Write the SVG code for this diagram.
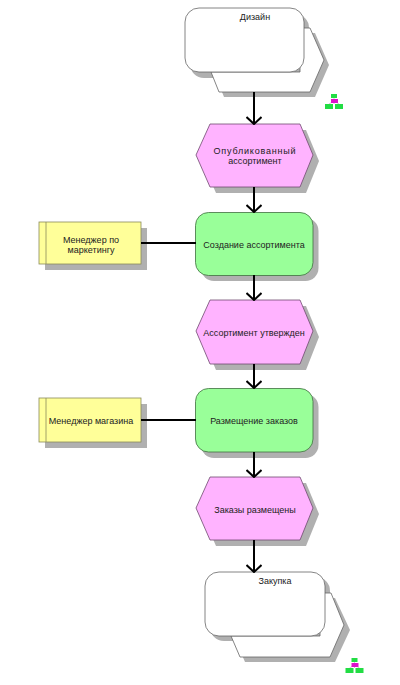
<svg xmlns="http://www.w3.org/2000/svg" width="400" height="685" viewBox="0 0 400 685">
<style>
text{font-family:"Liberation Sans",Arial,sans-serif;font-size:9px;fill:#222;text-anchor:middle}
.sh{fill:#b0b0b0}
.ev{fill:#ffb3ff;stroke:#6e4a6e;stroke-width:.8}
.fn{fill:#99ff99;stroke:#3f6f3f;stroke-width:.8}
.org{fill:#ffff99;stroke:#8a8a5a;stroke-width:.8}
.wh{fill:#fff;stroke:#666;stroke-width:.8}
.c{fill:none;stroke:#000;stroke-width:2}
.g{fill:#22dd44}.m{fill:#dd11cc}
</style>
<defs>
<marker id="a" viewBox="0 0 10 16" refX="9" refY="8" markerWidth="10" markerHeight="16" markerUnits="userSpaceOnUse" orient="auto"><path d="M2 .5L9 8L2 15.500" fill="none" stroke="#000" stroke-width="2"/></marker>
<g id="tree"><path d="M9 4V10M4 10L9 7L14 10" fill="none" stroke="#c8a0c8" stroke-width=".7"/><rect class="g" x="6" y="0" width="6" height="4"/><rect class="m" x="6" y="5" width="7" height="4"/><rect class="g" x="0" y="10" width="8" height="5"/><rect class="g" x="10" y="10" width="8" height="5"/></g>
</defs>
<g id="node-design">
<path class="sh" d="M216 77L224 97H315L329 65L315 33H250V77Z"/>
<path class="sh" d="M190 28a14 14 0 0 1 14-14h91a14 14 0 0 1 14 14v36a14 14 0 0 1-14 14H204a14 14 0 0 1-14-14Z"/>
<path d="M211 72L219 92H310L324 60L310 28H300V72Z" fill="#fff" stroke="#666" stroke-width=".8"/>
<rect class="wh" x="185" y="8" width="119" height="64" rx="14"/>
<text x="255" y="20">Дизайн</text>
</g>
<use id="icon-design" href="#tree" x="325" y="94"/>
<g id="node-published">
<path class="sh" d="M216 130H306L319 161L306 193H216L202 161Z"/>
<path class="ev" d="M210 124H300L313 155L300 187H210L196 155Z"/>
<text x="255" y="154" style="letter-spacing:.8px">Опубликованный</text><text x="255" y="164">ассортимент</text>
</g>
<g id="node-create">
<rect class="sh" x="201" y="218" width="117.500" height="63" rx="13"/>
<rect class="fn" x="195.500" y="212.500" width="117.500" height="63" rx="13"/>
<text x="254" y="248">Создание ассортимента</text>
</g>
<g id="node-manager-marketing">
<rect class="sh" x="45" y="228" width="102" height="42"/>
<rect class="org" x="39" y="222" width="102" height="42"/>
<path class="org" d="M46 222V264"/>
<text x="91" y="243">Менеджер по</text><text x="91" y="253">маркетингу</text>
</g>
<g id="node-approved">
<path class="sh" d="M216 306H306L319 337L306 370H216L202 337Z"/>
<path class="ev" d="M210 300H300L313 331L300 364H210L196 331Z"/>
<text x="254" y="336">Ассортимент утвержден</text>
</g>
<g id="node-place">
<rect class="sh" x="201" y="394" width="117.500" height="64" rx="13"/>
<rect class="fn" x="195.500" y="388.500" width="117.500" height="63.500" rx="13"/>
<text x="254" y="424">Размещение заказов</text>
</g>
<g id="node-manager-store">
<rect class="sh" x="45" y="404" width="102" height="44"/>
<rect class="org" x="39" y="398" width="102" height="44"/>
<path class="org" d="M46 398V442"/>
<text x="91" y="424">Менеджер магазина</text>
</g>
<g id="node-placed">
<path class="sh" d="M216 483H306L319 514L306 546H216L202 514Z"/>
<path class="ev" d="M210 477H300L313 508L300 540H210L196 508Z"/>
<text x="255" y="513">Заказы размещены</text>
</g>
<g id="node-purchase">
<path class="sh" d="M236 641L245 662H335L350 630L335 598H270V641Z"/>
<path class="sh" d="M210 591a14 14 0 0 1 14-14h92a14 14 0 0 1 14 14v36a14 14 0 0 1-14 14H224a14 14 0 0 1-14-14Z"/>
<path d="M231 636L240 657H330L344 625L331 593H320V636Z" fill="#fff" stroke="#666" stroke-width=".8"/>
<rect class="wh" x="205" y="572" width="120" height="64" rx="14"/>
<text x="275" y="584">Закупка</text>
</g>
<use id="icon-purchase" href="#tree" x="345.500" y="658"/>
<g id="connectors">
<path class="c" d="M254 92V124"  marker-end="url(#a)"/>
<path class="c" d="M254 187V212" marker-end="url(#a)"/>
<path class="c" d="M254 275V300" marker-end="url(#a)"/>
<path class="c" d="M254 364V388" marker-end="url(#a)"/>
<path class="c" d="M254 452V477" marker-end="url(#a)"/>
<path class="c" d="M254 540V572" marker-end="url(#a)"/>
<path class="c" d="M141 243H196"/>
<path class="c" d="M141 420H196"/>
</g>
</svg>
